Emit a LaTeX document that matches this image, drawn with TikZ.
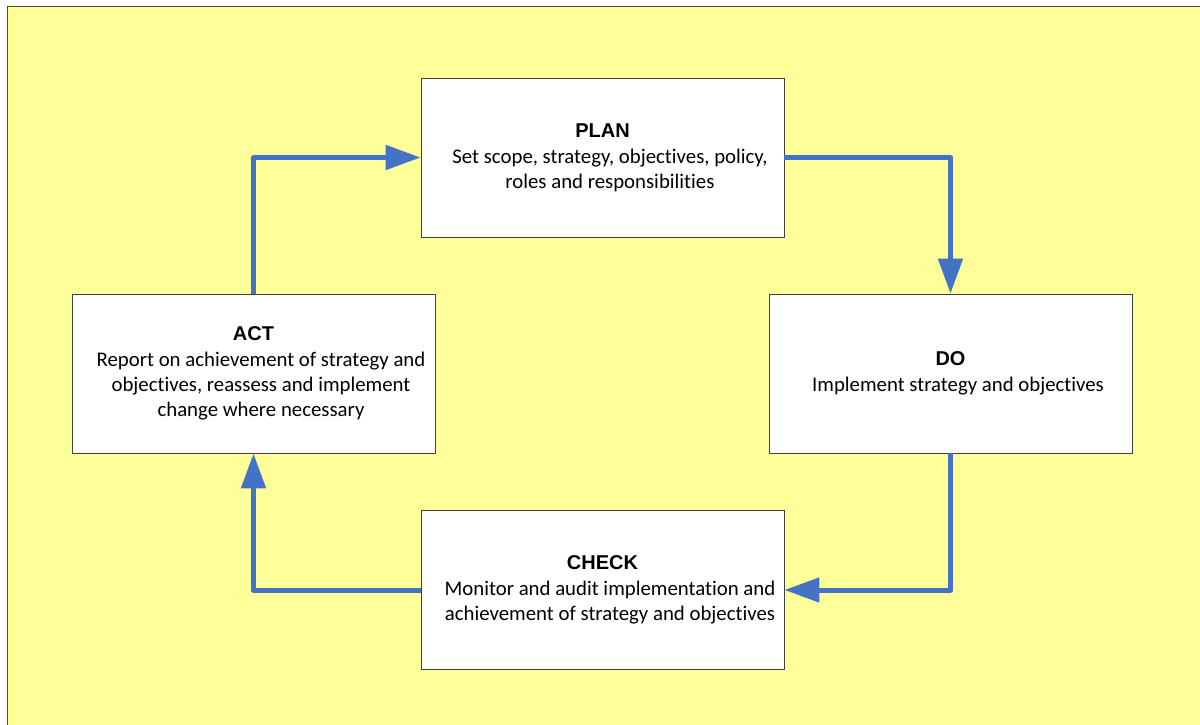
\documentclass[tikz,border=0pt]{standalone}
\usepackage{fontspec}
\setmainfont{Carlito}[Ligatures=NoCommon]
\newfontfamily\headfont{Liberation Sans}
\usetikzlibrary{arrows.meta}
\definecolor{pagebg}{RGB}{255,255,153}
\definecolor{flowblue}{RGB}{68,114,196}
\tikzset{
  stepbox/.style={draw=black!75, line width=0.8pt, fill=white,
    minimum width=363pt, minimum height=159pt, inner sep=0pt,
    align=center, font=\fontsize{20.8}{25}\selectfont},
  flow/.style={draw=flowblue, line width=5pt, line join=round,
    -{Triangle[length=35pt,width=24pt]}},
}
\newcommand{\steptitle}[1]{{\headfont\bfseries\fontsize{20}{25}\selectfont #1}}
% body lines sit a little right of the box centre
\newcommand{\bodyline}{\hspace*{15pt}}
\begin{document}
\begin{tikzpicture}[x=1pt,y=-1pt]
  \useasboundingbox (0,0) rectangle (1200,725);
  % yellow page with its top and left edges
  \fill[pagebg] (7.5,6.5) rectangle (1205,730);
  \draw[black!70, line width=1.5pt] (7.5,730) -- (7.5,6.5) -- (1205,6.5);

  % the four stages
  \node[stepbox] (plan) at (602.5,157.5)
    {\steptitle{PLAN}\\[1pt]\bodyline Set scope, strategy, objectives, policy,\\\bodyline roles and responsibilities};
  \node[stepbox] (do) at (950.5,373.5)
    {\steptitle{DO}\\[1pt]\bodyline Implement strategy and objectives};
  \node[stepbox] (check) at (602.5,590)
    {\steptitle{CHECK}\\[1pt]\bodyline Monitor and audit implementation and\\\bodyline achievement of strategy and objectives};
  \node[stepbox] (act) at (253.5,373.5)
    {\steptitle{ACT}\\[1pt]\bodyline Report on achievement of strategy and\\\bodyline objectives, reassess and implement\\\bodyline change where necessary};

  % the cycle
  \draw[flow] (act.north) |- (plan.west);
  \draw[flow] (plan.east) -| (do.north);
  \draw[flow] (do.south) |- (check.east);
  \draw[flow] (check.west) -| (act.south);
\end{tikzpicture}
\end{document}
